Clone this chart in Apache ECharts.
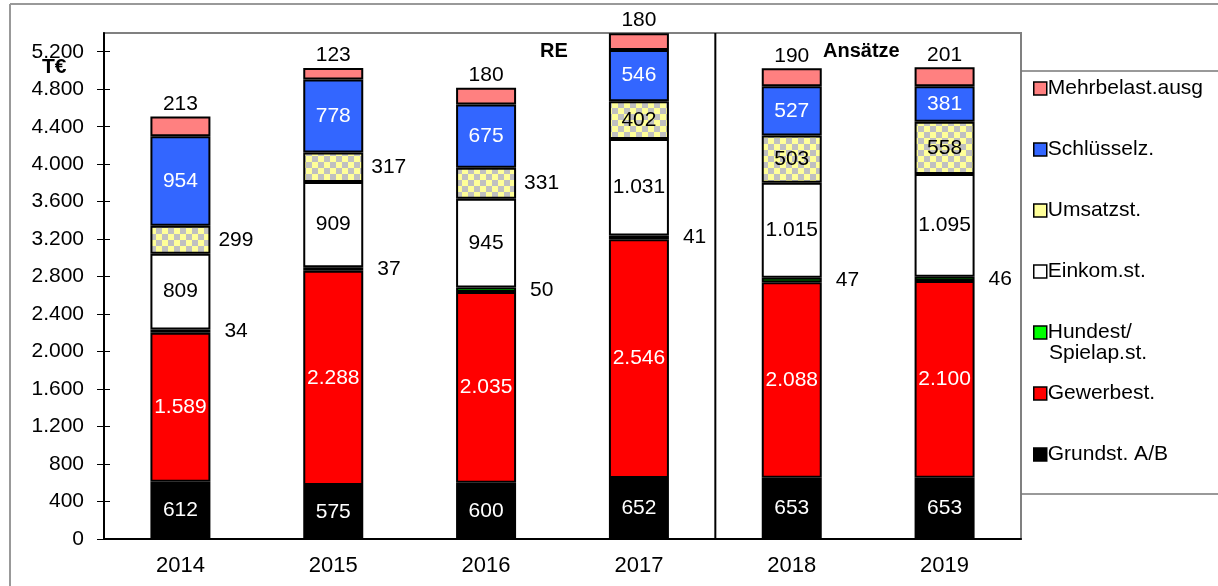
<!DOCTYPE html>
<html>
<head>
<meta charset="utf-8">
<script src="https://cdn.jsdelivr.net/npm/echarts@6/dist/echarts.min.js"></script>
<style>
  html, body { margin: 0; padding: 0; background: #fff; }
  #main { width: 1218px; height: 586px; }
</style>
</head>
<body>
<div id="main"></div>
<script>
// Jahre und Werte (T€)
var years = ['2014', '2015', '2016', '2017', '2018', '2019'];
var grundst = [612, 575, 600, 652, 653, 653];
var gewerbe = [1589, 2288, 2035, 2546, 2088, 2100];
var hundest = [34, 37, 50, 41, 47, 46];
var einkom = [809, 909, 945, 1031, 1015, 1095];
var umsatz = [299, 317, 331, 402, 503, 558];
var schluessel = [954, 778, 675, 546, 527, 381];
var mehrbelast = [213, 123, 180, 180, 190, 201];
var yTicks = [0, 400, 800, 1200, 1600, 2000, 2400, 2800, 3200, 3600, 4000, 4400, 4800, 5200];

var FONT = 'Liberation Sans, Arial, sans-serif';

function fmt(v) {
    return String(v).replace(/\B(?=(\d{3})+(?!\d))/g, '.');
}

// Karo-Muster fuer Umsatzsteuer
var pat = document.createElement('canvas');
pat.width = 12;
pat.height = 12;
var ctx = pat.getContext('2d');
ctx.fillStyle = '#ffff99';
ctx.fillRect(0, 0, 12, 12);
ctx.fillStyle = '#c0c0c0';
ctx.fillRect(0, 0, 6, 6);
ctx.fillRect(6, 6, 6, 6);

function lbl(pos, color, dist) {
    return {
        show: true,
        position: pos,
        distance: dist || 5,
        color: color,
        fontSize: 21,
        fontFamily: FONT,
        formatter: function (p) { return fmt(p.value); }
    };
}

function bar(name, data, color, label) {
    return {
        name: name,
        type: 'bar',
        stack: 'all',
        barWidth: 60,
        data: data,
        itemStyle: { color: color, borderColor: '#000', borderWidth: 2 },
        label: label
    };
}

var umsatzData = umsatz.map(function (v, i) {
    // die ersten drei Jahre Beschriftung rechts daneben
    if (i < 3) {
        return { value: v, label: { position: 'right', distance: 8 } };
    }
    return v;
});

var series = [
    bar('Grundst. A/B', grundst, '#000000', lbl('inside', '#fff')),
    bar('Gewerbest.', gewerbe, '#ff0000', lbl('inside', '#fff')),
    bar('Hundest/ Spielap.st.', hundest, '#00ff00', lbl('right', '#000', 14)),
    bar('Einkom.st.', einkom, '#ffffff', lbl('inside', '#000')),
    bar('Umsatzst.', umsatzData, { image: pat, repeat: 'repeat' }, lbl('inside', '#000')),
    bar('Schlüsselz.', schluessel, '#3366ff', lbl('inside', '#fff')),
    bar('Mehrbelast.ausg', mehrbelast, '#ff8080', lbl('top', '#000', 2))
];

var chart = echarts.init(document.getElementById('main'));

var option = {
    animation: false,
    backgroundColor: '#fff',
    textStyle: { fontFamily: FONT },
    grid: {
        left: 104, right: 197, top: 33, bottom: 47,
        show: true, borderColor: '#808080', borderWidth: 2, backgroundColor: 'transparent'
    },
    legend: {
        orient: 'vertical',
        left: 1028,
        top: 72,
        itemWidth: 13,
        itemHeight: 13,
        itemGap: 38,
        icon: 'rect',
        itemStyle: { borderColor: '#000', borderWidth: 1.5 },
        textStyle: { fontSize: 21, color: '#000', fontFamily: FONT, lineHeight: 23, padding: [0, 0, 0, -4] },
        formatter: function (name) {
            return name === 'Hundest/ Spielap.st.' ? 'Hundest/' : name;
        },
        data: [
            'Mehrbelast.ausg',
            'Schlüsselz.',
            { name: 'Umsatzst.', itemStyle: { color: '#ffff99' } },
            'Einkom.st.',
            'Hundest/ Spielap.st.',
            'Gewerbest.',
            'Grundst. A/B'
        ]
    },
    xAxis: [{
        type: 'category',
        data: years,
        axisLine: { lineStyle: { color: '#000', width: 2 } },
        axisTick: { length: 7, lineStyle: { color: '#000' } },
        axisLabel: { color: '#000', fontSize: 22, margin: 16, fontFamily: FONT }
    }, {
        type: 'category',
        data: years,
        position: 'bottom',
        axisLine: { show: false },
        axisTick: { inside: true, length: 5, lineStyle: { color: '#000' } },
        axisLabel: { show: false }
    }],
    yAxis: [{
        type: 'value',
        min: 0,
        max: 5400,
        interval: 400,
        splitLine: { show: false },
        axisLine: { show: true, lineStyle: { color: '#000', width: 2 } },
        axisTick: { show: true, length: 7, customValues: yTicks, lineStyle: { color: '#000' } },
        axisLabel: {
            color: '#000', fontSize: 21, margin: 20, fontFamily: FONT,
            customValues: yTicks,
            formatter: function (v) { return fmt(v); }
        }
    }, {
        type: 'value',
        min: 0,
        max: 5400,
        interval: 400,
        position: 'left',
        splitLine: { show: false },
        axisLine: { show: false },
        axisTick: { show: true, inside: true, length: 6, customValues: yTicks, lineStyle: { color: '#000' } },
        axisLabel: { show: false }
    }],
    series: series
};

chart.setOption(option);

// Trennlinie zwischen Rechnungsergebnissen und Ansaetzen
var x17 = chart.convertToPixel({ xAxisIndex: 0 }, '2017');
var x18 = chart.convertToPixel({ xAxisIndex: 0 }, '2018');
var xDiv = (x17 + x18) / 2;
var yTop = chart.convertToPixel({ yAxisIndex: 0 }, 5400);
var yBot = chart.convertToPixel({ yAxisIndex: 0 }, 0);

chart.setOption({
    graphic: [
        { type: 'line', shape: { x1: xDiv, y1: yTop, x2: xDiv, y2: yBot }, style: { stroke: '#000', lineWidth: 2 }, z: 10 },
        // Rahmen
        { type: 'line', shape: { x1: 10, y1: 4, x2: 1218, y2: 4 }, style: { stroke: '#999', lineWidth: 2 } },
        { type: 'line', shape: { x1: 10, y1: 4, x2: 10, y2: 586 }, style: { stroke: '#999', lineWidth: 2 } },
        { type: 'line', shape: { x1: 1021, y1: 71, x2: 1218, y2: 71 }, style: { stroke: '#777', lineWidth: 1.5 } },
        { type: 'line', shape: { x1: 1021, y1: 494, x2: 1218, y2: 494 }, style: { stroke: '#777', lineWidth: 1.5 } },
        // Texte
        { type: 'text', left: 42, top: 57, style: { text: 'T€', font: 'bold 21px ' + FONT, fill: '#000' } },
        { type: 'text', left: 540, top: 41, style: { text: 'RE', font: 'bold 20px ' + FONT, fill: '#000' } },
        { type: 'text', left: 823, top: 41, style: { text: 'Ansätze', font: 'bold 20px ' + FONT, fill: '#000' } },
        { type: 'text', left: 1049, top: 343, style: { text: 'Spielap.st.', font: '21px ' + FONT, fill: '#000' } }
    ]
});
</script>
</body>
</html>
